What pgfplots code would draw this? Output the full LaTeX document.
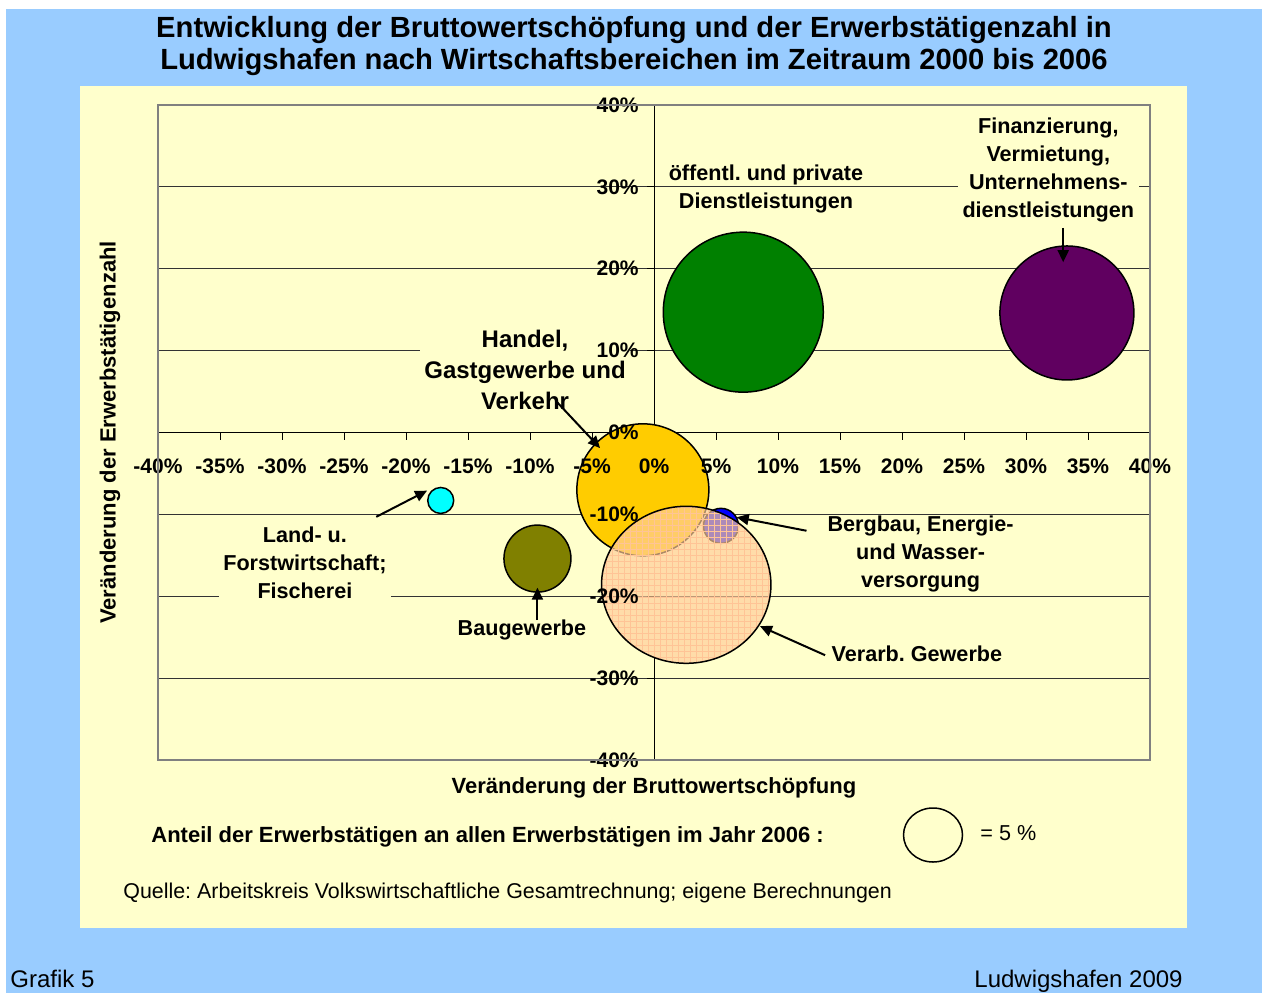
\documentclass[border=0pt]{standalone}
\usepackage{fontspec}
\setmainfont{Liberation Sans}
\usepackage{pgfplots}
\pgfplotsset{compat=1.18}
\usetikzlibrary{arrows.meta,patterns}
\frenchspacing

\definecolor{outerblue}{RGB}{153,204,255}
\definecolor{panel}{RGB}{255,255,204}
\definecolor{cHandel}{RGB}{255,204,0}
\definecolor{cBau}{RGB}{128,128,0}
\definecolor{cLand}{RGB}{0,255,255}
\definecolor{cBerg}{RGB}{0,0,255}
\definecolor{cOeff}{RGB}{0,128,0}
\definecolor{cFin}{RGB}{96,0,96}
\definecolor{cVer}{RGB}{255,204,153}
\definecolor{cVerGrid}{RGB}{255,196,150}
\definecolor{framegray}{RGB}{128,128,128}

\pgfdeclarelayer{bg}
\pgfplotsset{
  layers/mine/.define layer set={
    bg,axis background,axis grid,axis ticks,axis lines,pre main,main,axis tick labels,axis descriptions,axis foreground
  }{
    grid style={/pgfplots/on layer=axis grid},
    tick style={/pgfplots/on layer=axis ticks},
    axis line style={/pgfplots/on layer=axis lines},
    label style={/pgfplots/on layer=axis descriptions},
    legend style={/pgfplots/on layer=axis descriptions},
    title style={/pgfplots/on layer=axis descriptions},
    colorbar style={/pgfplots/on layer=axis descriptions},
    ticklabel style={/pgfplots/on layer=axis tick labels},
    axis background@ style={/pgfplots/on layer=axis background},
    3d box foreground style={/pgfplots/on layer=axis foreground},
  },
}

\tikzset{
  lbl/.style={font=\bfseries\fontsize{10.8}{14}\selectfont, align=center, inner sep=1.5pt},
  arr/.style={-{Triangle[length=6pt,width=5.5pt]}, line width=1pt, black},
}

\begin{document}
\begin{tikzpicture}
\pgfplotsset{set layers=mine}
\begin{pgfonlayer}{bg}
\fill[white] (0,0) rectangle (631pt,496.5pt);
\fill[outerblue] (3pt,0) rectangle (631pt,492pt);
\fill[panel] (40pt,32.5pt) rectangle (593.5pt,453.5pt);
\end{pgfonlayer}

% title
\node[font=\bfseries\fontsize{14.6}{17}\selectfont, anchor=base] at (317pt,477.5pt)
  {Entwicklung der Bruttowertschöpfung und der Erwerbstätigenzahl in};
\node[font=\bfseries\fontsize{14.6}{17}\selectfont, anchor=base] at (317pt,461.5pt)
  {Ludwigshafen nach Wirtschaftsbereichen im Zeitraum 2000 bis 2006};

\begin{axis}[
  at={(79pt,116.5pt)}, anchor=south west,
  width=496pt, height=327.5pt, scale only axis,
  xmin=-40, xmax=40, ymin=-40, ymax=40,
  axis lines=middle,
  axis line style={-, black, line width=0.5pt},
  hide obscured x ticks=false, hide obscured y ticks=false,
  xtick={-40,-35,...,40}, ytick={-40,-30,...,40},
  xticklabels={-40\%,-35\%,-30\%,-25\%,-20\%,-15\%,-10\%,-5\%,0\%,5\%,10\%,15\%,20\%,25\%,30\%,35\%,40\%},
  yticklabels={-40\%,-30\%,-20\%,-10\%,0\%,10\%,20\%,30\%,40\%},
  tick align=outside, major tick length=3.5pt,
  tick style={black, line width=0.5pt},
  ymajorgrids, grid style={black!80, line width=0.6pt},
  ticklabel style={font=\bfseries\fontsize{10.5}{12}\selectfont, inner sep=0pt},
  xticklabel style={anchor=center, yshift=-13.5pt},
  yticklabel style={anchor=east, xshift=-4pt},
  axis background/.style={fill=panel},
  xlabel={Veränderung der Bruttowertschöpfung},
  ylabel={Veränderung der Erwerbstätigenzahl},
  every axis x label/.style={at={(axis description cs:0.5,0)}, anchor=center, yshift=-14pt,
    font=\bfseries\fontsize{11}{13}\selectfont},
  every axis y label/.style={at={(axis description cs:0,0.5)}, anchor=center, xshift=-24pt, rotate=90,
    font=\bfseries\fontsize{11}{13}\selectfont},
  clip=false,
]
% Land- u. Forstwirtschaft; Fischerei
\addplot[only marks, mark=*, mark size=6.5pt, mark options={fill=cLand, draw=black, line width=0.75pt}]
  coordinates {(-17.2,-8.3)};
% Baugewerbe
\addplot[only marks, mark=*, mark size=16.75pt, mark options={fill=cBau, draw=black, line width=0.75pt}]
  coordinates {(-9.4,-15.4)};
% Handel, Gastgewerbe und Verkehr
\addplot[only marks, mark=*, mark size=33pt, mark options={fill=cHandel, draw=black, line width=0.75pt}]
  coordinates {(-0.9,-7.0)};
% Bergbau, Energie- und Wasserversorgung
\addplot[only marks, mark=*, mark size=8.75pt, mark options={fill=cBerg, draw=black, line width=0.75pt}]
  coordinates {(5.4,-11.4)};
% oeffentl. und private Dienstleistungen
\addplot[only marks, mark=*, mark size=40pt, mark options={fill=cOeff, draw=black, line width=0.75pt}]
  coordinates {(7.2,14.7)};
% Finanzierung, Vermietung, Unternehmensdienstleistungen
\addplot[only marks, mark=*, mark size=33.5pt, mark options={fill=cFin, draw=black, line width=0.75pt}]
  coordinates {(33.3,14.6)};
% Verarb. Gewerbe (transparent, on top)
\addplot[on layer=axis foreground, only marks, mark=*, mark size=42.35pt,
  mark options={yscale=0.927, fill=cVer, fill opacity=0.68, draw opacity=0}]
  coordinates {(2.6,-18.6)};
\addplot[on layer=axis foreground, only marks, mark=*, mark size=42.35pt,
  mark options={yscale=0.927, pattern=grid, pattern color=cVerGrid,
    draw=black, line width=0.75pt}]
  coordinates {(2.6,-18.6)};

% label below the tick labels (the 10% label is set over it)
\node[lbl, font=\bfseries\fontsize{12}{15.5}\selectfont, fill=panel, inner xsep=2pt] at (axis cs:-10.4,7.7)
  {Handel,\\Gastgewerbe und\\Verkehr};

\begin{pgfonlayer}{axis foreground}
\draw[framegray, line width=1pt] (rel axis cs:0,0) rectangle (rel axis cs:1,1);
\node[lbl] at (axis cs:9.03,29.74) {öffentl. und private\\Dienstleistungen};
\node[lbl, fill=panel, inner xsep=2.5pt] at (axis cs:31.8,32.06)
  {Finanzierung,\\Vermietung,\\Unternehmens-\\dienstleistungen};
\draw[arr] (axis cs:33.0,25.0) -- (axis cs:33.0,20.8);
\draw[arr] (axis cs:-7.85,3.76) -- (axis cs:-4.35,-1.9);
\node[lbl, fill=panel, inner xsep=2pt, inner ysep=6pt] at (axis cs:-28.15,-15.94)
  {Land- u.\\Forstwirtschaft;\\Fischerei};
\draw[arr] (axis cs:-22.4,-10.3) -- (axis cs:-18.3,-7.1);
\node[lbl] at (axis cs:-10.65,-24.1) {Baugewerbe};
\draw[arr] (axis cs:-9.4,-22.9) -- (axis cs:-9.4,-18.95);
\node[lbl] at (axis cs:21.5,-14.84) {Bergbau, Energie-\\und Wasser-\\versorgung};
\draw[arr] (axis cs:12.3,-12.0) -- (axis cs:6.67,-10.35);
\node[lbl] at (axis cs:21.2,-27.05) {Verarb. Gewerbe};
\draw[arr] (axis cs:13.8,-27.2) -- (axis cs:8.55,-23.65);
\end{pgfonlayer}
\end{axis}

% bubble size legend
\node[font=\bfseries\fontsize{11}{13}\selectfont, anchor=base west, inner sep=0pt] at (75.5pt,75.5pt)
  {Anteil der Erwerbstätigen an allen Erwerbstätigen im Jahr 2006 :};
\draw[black, line width=0.75pt] (466.5pt,79pt) ellipse [x radius=14.75pt, y radius=13.5pt];
\node[font=\fontsize{10.8}{12}\selectfont, anchor=west, inner sep=0pt] at (490pt,80pt) {= 5 \%};
% source and footer
\node[font=\fontsize{10.7}{12}\selectfont, anchor=base west, inner sep=0pt] at (61.5pt,47.5pt)
  {Quelle: Arbeitskreis Volkswirtschaftliche Gesamtrechnung; eigene Berechnungen};
\node[font=\fontsize{12}{14}\selectfont, anchor=base west, inner sep=0pt] at (5pt,2.8pt) {Grafik 5};
\node[font=\fontsize{12}{14}\selectfont, anchor=base east, inner sep=0pt] at (591.5pt,2.8pt) {Ludwigshafen 2009};
\end{tikzpicture}
\end{document}
